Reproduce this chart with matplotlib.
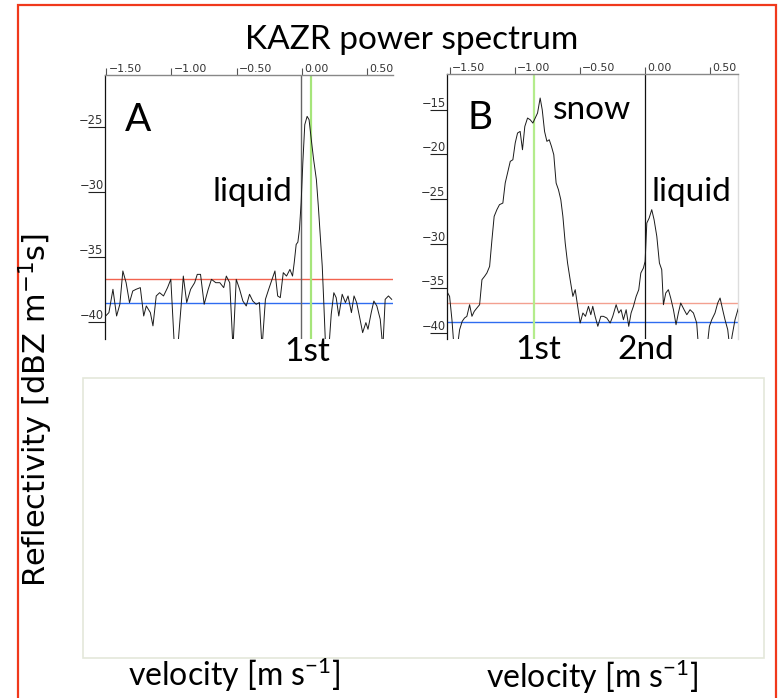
import numpy as np
import matplotlib
matplotlib.use("Agg")
import matplotlib.pyplot as plt
from matplotlib.patches import Rectangle
from matplotlib.transforms import ScaledTranslation

# ---------------- data ----------------
vel_a = [-1.505, -1.480, -1.449, -1.421, -1.396, -1.373, -1.348, -1.322, -1.297, -1.272,
         -1.239, -1.213, -1.193, -1.162, -1.142, -1.117, -1.091, -1.061, -1.030, -1.005,
         -0.977, -0.952, -0.926, -0.909, -0.883, -0.853, -0.822, -0.802, -0.777, -0.749,
         -0.718, -0.693, -0.660, -0.629, -0.599, -0.579, -0.553, -0.528, -0.503, -0.477,
         -0.452, -0.426, -0.401, -0.376, -0.350, -0.325, -0.305, -0.279, -0.254, -0.228,
         -0.206, -0.185, -0.165, -0.142, -0.117, -0.091, -0.071, -0.058, -0.043, -0.030,
         -0.018, -0.005, 0.008, 0.023, 0.041, 0.056, 0.076, 0.091, 0.112, 0.127,
         0.142, 0.157, 0.170, 0.183, 0.208, 0.226, 0.246, 0.264, 0.284, 0.310,
         0.335, 0.355, 0.381, 0.401, 0.421, 0.447, 0.467, 0.492, 0.508, 0.533,
         0.553, 0.576, 0.602, 0.622, 0.640, 0.665, 0.690]
refl_a = [-39.53, -39.27, -37.48, -39.53, -38.63, -36.07, -36.97, -38.50, -37.61, -37.48,
          -37.35, -39.53, -38.76, -39.27, -40.29, -37.99, -37.74, -37.99, -37.35, -36.71,
          -42.0, -42.0, -38.76, -36.46, -38.50, -37.48, -36.97, -36.33, -36.33, -38.63,
          -37.48, -36.71, -36.97, -36.97, -37.35, -36.46, -36.97, -42.0, -36.71, -37.48,
          -38.38, -38.76, -37.86, -38.38, -38.63, -38.50, -42.0, -38.25, -37.48, -36.71,
          -36.07, -37.99, -38.12, -36.20, -36.46, -35.95, -36.46, -35.43, -34.03, -33.85,
          -32.88, -30.83, -27.76, -24.82, -24.18, -24.44, -26.23, -27.51, -29.04, -31.09,
          -33.39, -35.69, -38.76, -42.0, -42.0, -39.40, -37.74, -38.12, -39.53, -37.86,
          -38.50, -37.99, -39.27, -37.99, -38.50, -39.78, -40.81, -40.04, -40.55, -39.27,
          -38.38, -38.76, -39.78, -42.0, -38.25, -37.99, -38.25]

vel_b = [-1.526, -1.505, -1.487, -1.469, -1.449, -1.428, -1.408, -1.390, -1.372, -1.351,
         -1.333, -1.315, -1.295, -1.274, -1.256, -1.236, -1.218, -1.197, -1.179, -1.162,
         -1.141, -1.121, -1.095, -1.077, -1.059, -1.038, -1.018, -1.000, -0.982, -0.962,
         -0.944, -0.926, -0.905, -0.885, -0.864, -0.846, -0.828, -0.808, -0.792, -0.774,
         -0.756, -0.738, -0.721, -0.703, -0.685, -0.667, -0.649, -0.633, -0.615, -0.597,
         -0.577, -0.556, -0.538, -0.521, -0.500, -0.479, -0.459, -0.436, -0.418, -0.403,
         -0.385, -0.364, -0.341, -0.321, -0.295, -0.269, -0.249, -0.223, -0.203, -0.185,
         -0.167, -0.146, -0.126, -0.108, -0.090, -0.069, -0.049, -0.033, -0.013, 0.000,
         0.013, 0.031, 0.051, 0.069, 0.090, 0.110, 0.128, 0.141, 0.159, 0.179,
         0.197, 0.218, 0.238, 0.256, 0.274, 0.300, 0.321, 0.346, 0.372, 0.397,
         0.413, 0.436, 0.454, 0.474, 0.495, 0.513, 0.538, 0.559, 0.577, 0.597,
         0.615, 0.636, 0.654, 0.669, 0.692, 0.718]
refl_b = [-35.34, -35.90, -38.51, -42.0, -42.0, -39.63, -38.69, -38.32, -38.13, -36.83,
          -38.13, -37.57, -37.20, -36.83, -34.03, -33.66, -33.28, -32.54, -29.55, -26.94,
          -26.19, -25.63, -25.45, -23.21, -22.09, -20.78, -20.60, -18.73, -17.61, -17.43,
          -19.48, -16.87, -15.93, -16.12, -16.49, -15.93, -15.37, -13.69, -15.00, -17.43,
          -18.54, -18.36, -19.10, -20.04, -23.21, -23.96, -25.07, -26.94, -29.93, -32.16,
          -34.03, -35.90, -35.15, -36.83, -38.88, -37.76, -38.13, -37.01, -37.95, -37.01,
          -38.13, -39.25, -38.13, -38.13, -38.32, -38.88, -38.13, -36.83, -37.76, -37.39,
          -38.51, -37.39, -39.25, -37.76, -37.01, -35.90, -35.15, -33.28, -32.72, -31.98,
          -27.69, -27.13, -26.19, -27.31, -29.18, -32.16, -32.91, -36.83, -35.52, -35.15,
          -36.08, -37.39, -39.07, -37.76, -36.64, -37.39, -37.95, -37.39, -37.76, -38.88,
          -42.0, -42.0, -42.0, -42.0, -39.25, -38.51, -37.76, -36.64, -36.08, -37.39,
          -38.51, -39.63, -42.0, -40.37, -38.51, -37.20]

xticks = [-1.5, -1.0, -0.5, 0.0, 0.5]
yticks_a = [-25, -30, -35, -40]
yticks_b = [-15, -20, -25, -30, -35, -40]

# reference lines
red_a, blue_a = -36.7, -38.55
red_b, blue_b = -36.64, -38.73
zero_a, green_a = -0.005, 0.07
zero_b, green_b = 0.0, -0.854

plt.rcParams["mathtext.fontset"] = "custom"
plt.rcParams["mathtext.rm"] = "Lato"
plt.rcParams["mathtext.it"] = "Lato:italic"
plt.rcParams["mathtext.bf"] = "Lato:bold"

W, H = 780, 698
fig = plt.figure(figsize=(W / 100, H / 100), dpi=100)


def fr(x, y):
    return x / W, 1 - y / H


def style_axes(ax, xlim, ylim, yticks, right_spine=False):
    ax.set_xlim(*xlim)
    ax.set_ylim(*ylim)
    ax.xaxis.tick_top()
    ax.set_xticks(xticks)
    ax.set_xticklabels([f"{t:.2f}".replace("-", "\u2212") for t in xticks])
    ax.set_yticks(yticks)
    ax.set_yticklabels([f"{t:d}".replace("-", "\u2212") for t in yticks])
    ax.tick_params(axis="x", direction="out", length=5, width=0.8, color="#555555",
                   pad=-4.5, labelsize=7.8, labelcolor="#333333")
    ax.tick_params(axis="y", direction="out", length=12, width=0.8, color="#222222",
                   pad=-11.0, labelsize=8.3, labelcolor="#333333")
    for lab in ax.get_xticklabels():
        lab.set_ha("left")
        lab.set_transform(lab.get_transform() + ScaledTranslation(1.5 / 72, 0, fig.dpi_scale_trans))
    for lab in ax.get_yticklabels():
        lab.set_va("bottom")
    ax.spines["bottom"].set_visible(False)
    ax.spines["top"].set_color("#888888")
    ax.spines["left"].set_color("#111111")
    ax.spines["top"].set_linewidth(1.0)
    ax.spines["left"].set_linewidth(0.9)
    if right_spine:
        ax.spines["right"].set_color("#dddddd")
        ax.spines["right"].set_linewidth(1.0)
    else:
        ax.spines["right"].set_visible(False)


# panel A
x0, y1 = fr(105, 339)
x1, y0 = fr(393, 75)
axA = fig.add_axes([x0, y1, x1 - x0, y0 - y1])
axA.axhline(red_a, color="#f2634f", lw=1.0, zorder=1)
axA.axhline(blue_a, color="#2f6cf0", lw=1.0, zorder=1)
axA.axvline(zero_a, color="#666666", lw=1.0, zorder=2)
axA.axvline(green_a, color="#a6e57a", lw=1.6, zorder=2)
axA.plot(vel_a, refl_a, color="#1a1a1a", lw=0.7, zorder=3)
style_axes(axA, (-1.51, 0.70), (-41.3, -21.0), yticks_a)

# panel B
x0, y1 = fr(447, 339)
x1, y0 = fr(738, 74)
axB = fig.add_axes([x0, y1, x1 - x0, y0 - y1])
axB.axhline(red_b, color="#f3a090", lw=1.0, zorder=1)
axB.axhline(blue_b, color="#2f6cf0", lw=1.0, zorder=1)
axB.axvline(zero_b, color="#111111", lw=0.9, zorder=2)
axB.axvline(green_b, color="#b4ec8c", lw=1.6, zorder=2)
axB.plot(vel_b, refl_b, color="#1a1a1a", lw=0.7, zorder=3)
style_axes(axB, (-1.525, 0.715), (-40.67, -11.0), yticks_b, right_spine=True)

# empty lower panel
bx0, by1 = fr(82.5, 658)
bx1, by0 = fr(764, 378)
fig.patches.append(Rectangle((bx0, by1), bx1 - bx0, by0 - by1, transform=fig.transFigure,
                             fill=False, edgecolor="#e4e8da", lw=1.2))

# red outer frame
fx0, fy0 = fr(18, 5)
fx1, _ = fr(776, 5)
fig.patches.append(Rectangle((fx0, -0.02), fx1 - fx0, fy0 + 0.02, transform=fig.transFigure,
                             fill=False, edgecolor="#f0391c", lw=1.6))

SANS = ["Lato", "DejaVu Sans"]
fig.text(*fr(412, 40), "KAZR power spectrum", family=SANS, fontsize=24, ha="center", va="center")
fig.text(*fr(35, 410), "Reflectivity [dBZ m$^{\\mathregular{-1}}$s]", family=["DejaVu Sans"], fontsize=22,
         rotation=90, ha="center", va="center")
fig.text(*fr(234, 675), "velocity [m s$^{-1}$]", family=SANS, fontsize=23, ha="center", va="center")
fig.text(*fr(592, 677), "velocity [m s$^{-1}$]", family=SANS, fontsize=23, ha="center", va="center")

fig.text(*fr(138, 120), "A", family=SANS, fontsize=28, ha="center", va="center")
fig.text(*fr(480, 118), "B", family=SANS, fontsize=28, ha="center", va="center")
fig.text(*fr(252, 192), "liquid", family=SANS, fontsize=24, ha="center", va="center")
fig.text(*fr(592, 110), "snow", family=SANS, fontsize=24, ha="center", va="center")
fig.text(*fr(691, 192), "liquid", family=SANS, fontsize=24, ha="center", va="center")
fig.text(*fr(307, 352), "1st", family=SANS, fontsize=24, ha="center", va="center")
fig.text(*fr(538, 350), "1st", family=SANS, fontsize=24, ha="center", va="center")
fig.text(*fr(646, 350), "2nd", family=SANS, fontsize=24, ha="center", va="center")

fig.savefig("out.png", dpi=100)
